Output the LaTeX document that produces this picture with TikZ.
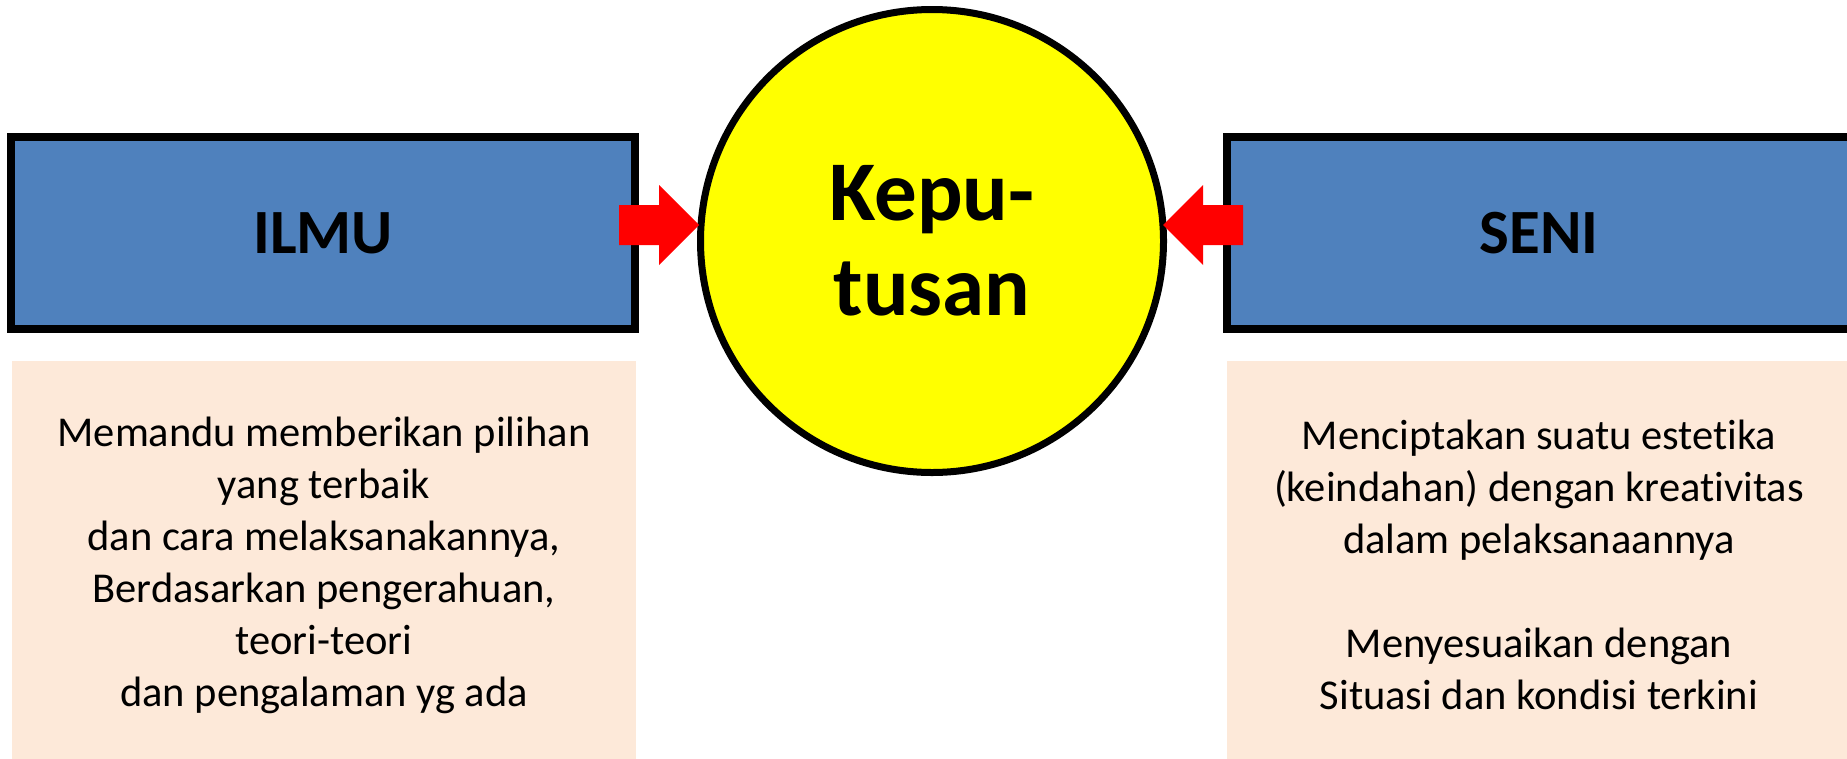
\documentclass[tikz,border=0pt]{standalone}
\usepackage{fontspec}
\setmainfont{Carlito}[Ligatures=NoCommon]
\usetikzlibrary{calc}
\definecolor{boxblue}{HTML}{4F81BD}
\definecolor{peach}{HTML}{FDE9D9}
\definecolor{circyellow}{HTML}{FFFF00}
\definecolor{arrowred}{HTML}{FF0000}
\tikzset{
  headbox/.style={draw=black, line width=8pt, fill=boxblue, rectangle,
    minimum width=624pt, minimum height=192pt, inner sep=0pt,
    font=\fontsize{63}{76}\selectfont\bfseries},
  notebox/.style={fill=peach, rectangle, minimum width=624pt, minimum height=408pt,
    inner sep=0pt, align=center, font=\fontsize{42.5}{52}\selectfont},
  decision/.style={circle, draw=black, line width=7pt, fill=circyellow,
    minimum size=463pt, inner sep=0pt, align=center,
    font=\fontsize{85}{95}\selectfont\bfseries},
  blockarrow/.style={fill=arrowred, draw=none}
}
\begin{document}
\begin{tikzpicture}[x=1pt, y=-1pt]
\useasboundingbox (0,0) rectangle (1847,758);
\clip (0,0) rectangle (1847,758);
\node[headbox] (ilmu) at (323,233) {ILMU};
\node[headbox] (seni) at (1539,233) {SENI};
\node[notebox] (ilmutext) at (324,565) {Memandu memberikan pilihan\\yang terbaik\\dan cara melaksanakannya,\\Berdasarkan pengerahuan,\\teori-teori\\dan pengalaman yg ada};
\node[notebox] (senitext) at (1539,565) {Menciptakan suatu estetika\\(keindahan) dengan kreativitas\\dalam pelaksanaannya\\\mbox{}\\Menyesuaikan dengan\\Situasi dan kondisi terkini};
\node[decision] (kep) at (932,241) {Kepu-\\tusan};
% left block arrow: from ILMU to the circle
\fill[blockarrow] ($(kep.center)+(-233,-16)$) coordinate (ltip)
  -- ($(ltip)+(-40,-40)$) -- ($(ltip)+(-40,-20)$) -- ($(ltip)+(-80,-20)$)
  -- ($(ltip)+(-80,20)$) -- ($(ltip)+(-40,20)$) -- ($(ltip)+(-40,40)$) -- cycle;
% right block arrow: from SENI to the circle
\fill[blockarrow] ($(kep.center)+(231,-16)$) coordinate (rtip)
  -- ($(rtip)+(40,-40)$) -- ($(rtip)+(40,-20)$) -- ($(rtip)+(80,-20)$)
  -- ($(rtip)+(80,20)$) -- ($(rtip)+(40,20)$) -- ($(rtip)+(40,40)$) -- cycle;
\end{tikzpicture}
\end{document}
